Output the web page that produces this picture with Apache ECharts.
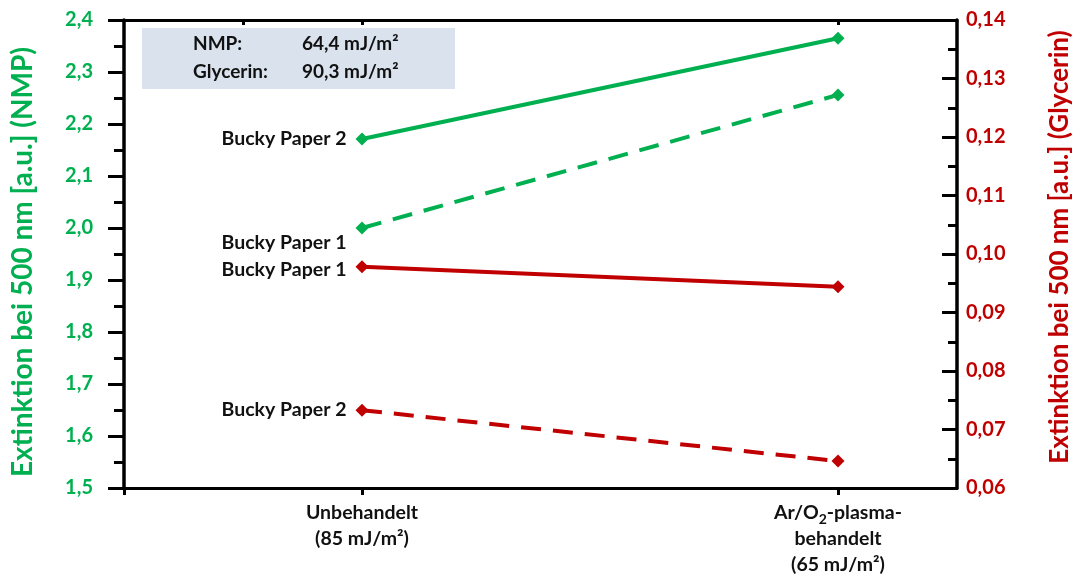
<!DOCTYPE html>
<html>
<head>
<meta charset="utf-8">
<script src="https://cdn.jsdelivr.net/npm/echarts@6/dist/echarts.min.js"></script>
<style>
  html, body { margin: 0; padding: 0; background: #fff; }
  #chart { width: 1074px; height: 577px; }
</style>
</head>
<body>
<div id="chart"></div>
<script>
// Treatment categories (x positions 0 and 1 on a value axis)
const categories = ['Unbehandelt\n(85 mJ/m²)', 'Ar/O{sub|2}-plasma-\nbehandelt\n(65 mJ/m²)'];

// Extinction at 500 nm, NMP dispersions (left axis)
const nmpPaper2 = [2.171, 2.365];
const nmpPaper1 = [2.000, 2.256];
// Extinction at 500 nm, glycerin dispersions (right axis)
const glyPaper1 = [0.0978, 0.0944];
const glyPaper2 = [0.0733, 0.0646];

const surfaceEnergy = [['NMP:', '64,4 mJ/m²'], ['Glycerin:', '90,3 mJ/m²']];

const GREEN = '#00b050';
const RED = '#c00000';
const FONT = 'Lato';

function pts(vals) { return vals.map((v, i) => [i, v]); }

function makeSeries(name, vals, yIdx, color, dashed, labelOffset) {
  const data = pts(vals).map((p, i) => i === 0 ? {
    value: p,
    label: {
      show: true, position: 'left', distance: 9, offset: labelOffset,
      formatter: name, color: '#111', fontFamily: FONT, fontWeight: 'bold', fontSize: 19.5
    }
  } : { value: p });
  return {
    type: 'line', name: name, xAxisIndex: 0, yAxisIndex: yIdx, data: data,
    symbol: 'diamond', symbolSize: 13, color: color,
    lineStyle: { color: color, width: 4, type: dashed ? [20, 12] : 'solid' },
    itemStyle: { color: color },
    animation: false, silent: true
  };
}

const chart = echarts.init(document.getElementById('chart'));
chart.setOption({
  backgroundColor: '#fff',
  grid: { left: 124, right: 117, top: 20, bottom: 89, outerBoundsMode: 'none' },
  xAxis: [{
    type: 'value', position: 'bottom', min: -0.5, max: 1.25, interval: 0.25,
    axisLine: { show: true, onZero: false, lineStyle: { color: '#000', width: 3 } },
    axisTick: { show: true, customValues: [-0.5, 0, 1], length: 7, lineStyle: { color: '#000', width: 3 } },
    splitLine: { show: false },
    axisLabel: {
      customValues: [0, 1], margin: 12, lineHeight: 26,
      formatter: v => categories[Math.round(v)],
      color: '#111', fontFamily: FONT, fontWeight: 'bold', fontSize: 19.5,
      rich: { sub: { fontSize: 14, lineHeight: 26, verticalAlign: 'bottom', fontFamily: FONT, fontWeight: 'bold', color: '#111' } }
    }
  }, {
    type: 'value', position: 'top', min: -0.5, max: 1.25, interval: 0.25,
    axisLine: { show: true, onZero: false, lineStyle: { color: '#000', width: 3 } },
    axisTick: { show: true, inside: true, customValues: [-0.25, 0, 1], length: 5, lineStyle: { color: '#000', width: 3 } },
    splitLine: { show: false },
    axisLabel: { show: false }
  }],
  yAxis: [{
    type: 'value', position: 'left', min: 1.5, max: 2.4, interval: 0.1,
    name: 'Extinktion bei 500 nm [a.u.] (NMP)', nameLocation: 'middle', nameGap: 87, nameRotate: 90,
    nameTextStyle: { color: GREEN, fontFamily: FONT, fontWeight: 'bold', fontSize: 28, padding: [0, 16, 0, 0] },
    axisLine: { show: true, onZero: false, lineStyle: { color: '#000', width: 3.5 } },
    axisTick: { show: true, length: 16, lineStyle: { color: '#000', width: 3 } },
    minorTick: { show: true, splitNumber: 2, length: 10, lineStyle: { color: '#000', width: 3 } },
    splitLine: { show: false },
    axisLabel: {
      margin: 31, color: GREEN, fontFamily: FONT, fontWeight: 'bold', fontSize: 20,
      formatter: v => v.toFixed(1).replace('.', ',')
    }
  }, {
    type: 'value', position: 'right', min: 0.06, max: 0.14, interval: 0.01,
    name: 'Extinktion bei 500 nm [a.u.] (Glycerin)', nameLocation: 'middle', nameGap: 90, nameRotate: 90,
    nameTextStyle: { color: RED, fontFamily: FONT, fontWeight: 'bold', fontSize: 26, padding: [0, 0, 0, 14] },
    axisLine: { show: true, onZero: false, lineStyle: { color: '#000', width: 3.5 } },
    axisTick: { show: true, inside: true, length: 15, lineStyle: { color: '#000', width: 3 } },
    minorTick: { show: true, splitNumber: 2, length: 9, lineStyle: { color: '#000', width: 3 } },
    splitLine: { show: false },
    axisLabel: {
      margin: 9, color: RED, fontFamily: FONT, fontWeight: 'bold', fontSize: 20,
      formatter: v => v.toFixed(2).replace('.', ',')
    }
  }],
  graphic: [{
    type: 'rect', left: 142, top: 28, silent: true,
    shape: { width: 313, height: 61 },
    style: { fill: '#d9e2ed' }
  }].concat(surfaceEnergy.flatMap((row, i) => [{
    type: 'text', left: 193, top: 34 + i * 28, silent: true,
    style: { text: row[0], fill: '#111', font: 'bold 19px ' + FONT }
  }, {
    type: 'text', left: 302, top: 34 + i * 28, silent: true,
    style: { text: row[1], fill: '#111', font: 'bold 19px ' + FONT }
  }])),
  series: [
    makeSeries('Bucky Paper 2', nmpPaper2, 0, GREEN, false, [0, 0]),
    makeSeries('Bucky Paper 1', nmpPaper1, 0, GREEN, true, [0, 15]),
    makeSeries('Bucky Paper 1', glyPaper1, 1, RED, false, [0, 3]),
    makeSeries('Bucky Paper 2', glyPaper2, 1, RED, true, [0, 0])
  ]
});
</script>
</body>
</html>
